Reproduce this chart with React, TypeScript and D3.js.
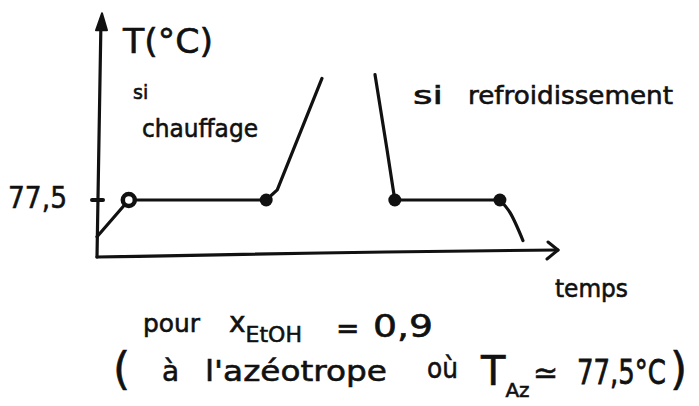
import React from "react";
import * as d3 from "d3";

// Time axis (arbitrary units) and temperature axis (°C)
const timeDomain: [number, number] = [0, 100];
const tempDomain: [number, number] = [73, 92];

// Azeotrope boiling temperature and its tick label
const azeotropeTemp = 77.5;
const tempTickLabels = ["77,5"];

// Heating curve: warm-up, boiling plateau, vapour heating
const heatingTime = [0, 6.9, 36.7, 39.1, 48.8];
const heatingTemp = [74.6, 77.5, 77.5, 78.3, 87.1];
// Plateau ends (start drawn open, end drawn filled)
const heatingPlateauTime = [6.9, 36.7];

// Cooling curve: vapour cooling, condensation plateau, liquid cooling
const coolingTime = [60.3, 62.9, 64.6, 87.4, 89.6, 92.4];
const coolingTemp = [87.4, 81.5, 77.5, 77.5, 76.5, 74.3];
const coolingPlateauTime = [64.6, 87.4];

const W = 699;
const H = 406;
const FONT = "'DejaVu Sans', sans-serif";
const INK = "#111";

export default function App() {
  const x = d3.scaleLinear().domain(timeDomain).range([97, 558]);
  const y = d3.scaleLinear().domain(tempDomain).range([257, 16.3]);

  const line = d3
    .line<[number, number]>()
    .x((d) => x(d[0]))
    .y((d) => y(d[1]))
    .curve(d3.curveLinear);

  const heatingPts = heatingTime.map((t, i) => [t, heatingTemp[i]] as [number, number]);
  const coolingDrop = coolingTime.slice(0, 3).map((t, i) => [t, coolingTemp[i]] as [number, number]);
  const coolingRest = coolingTime.slice(2).map((t, i) => [t, coolingTemp[i + 2]] as [number, number]);
  const tail = d3
    .line<[number, number]>()
    .x((d) => x(d[0]))
    .y((d) => y(d[1]))
    .curve(d3.curveMonotoneX);

  const x0 = x(timeDomain[0]);
  const yBase = y(tempDomain[0]);
  const yTop = y(tempDomain[1]);
  const xEnd = x(timeDomain[1]);
  const yTick = y(azeotropeTemp);

  return (
    <svg
      width={W}
      height={H}
      viewBox={`0 0 ${W} ${H}`}
      style={{ position: "absolute", left: 0, top: 0, background: "#fff" }}
    >
      <rect width={W} height={H} fill="#fff" />
      <g stroke={INK} strokeLinecap="round" strokeLinejoin="round" fill="none">
        {/* temperature axis with arrow */}
        <path d={`M${x0},${yBase} L${x0 + 4},${yTop + 3}`} strokeWidth={3.2} />
        <path
          d={`M${x0 + 5},${yTop - 3} L${x0 - 1},${yTop + 14} L${x0 + 10},${yTop + 14} Z`}
          fill={INK}
          strokeWidth={2}
        />
        {/* time axis with arrow */}
        <path d={`M${x0},${yBase} Q${x(55)},${yBase - 5} ${xEnd},${yBase - 7}`} strokeWidth={3.2} />
        <path d={`M${xEnd - 10},${yBase - 15} L${xEnd},${yBase - 7} L${xEnd - 11},${yBase + 2}`} strokeWidth={3} />
        {/* tick at the azeotrope temperature */}
        <path d={`M${x0 - 5},${yTick} L${x0 + 6},${yTick}`} strokeWidth={4} />

        {/* heating curve */}
        <path d={line(heatingPts) ?? ""} strokeWidth={3.2} />
        {/* cooling curve */}
        <path d={line(coolingDrop) ?? ""} strokeWidth={3.2} />
        <path d={line(coolingRest.slice(0, 2)) ?? ""} strokeWidth={3.2} />
        <path d={tail(coolingRest.slice(1)) ?? ""} strokeWidth={3.2} />
      </g>

      {/* plateau markers */}
      <circle cx={x(heatingPlateauTime[0])} cy={yTick} r={6} fill="#fff" stroke={INK} strokeWidth={4.5} />
      <circle cx={x(heatingPlateauTime[1])} cy={yTick} r={6.5} fill={INK} />
      {coolingPlateauTime.map((t) => (
        <circle key={t} cx={x(t)} cy={yTick} r={6.5} fill={INK} />
      ))}

      <g fill={INK} stroke={INK} strokeWidth={0.6} fontFamily={FONT}>
        {/* axis titles */}
        <text x={123} y={53} fontSize={34} textLength={90} lengthAdjust="spacingAndGlyphs">T(°C)</text>
        <text x={555} y={297} fontSize={24} textLength={73} lengthAdjust="spacingAndGlyphs">temps</text>
        {/* tick label */}
        <text x={8} y={208} fontSize={31} textLength={59} lengthAdjust="spacingAndGlyphs">{tempTickLabels[0]}</text>

        {/* curve annotations */}
        <text x={133} y={99} fontSize={19}>si</text>
        <text x={142} y={137} fontSize={25} textLength={116} lengthAdjust="spacingAndGlyphs">chauffage</text>
        <text x={413} y={104} fontSize={25} textLength={30} lengthAdjust="spacingAndGlyphs">si</text>
        <text x={468} y={104} fontSize={25} textLength={205} lengthAdjust="spacingAndGlyphs">refroidissement</text>

        {/* composition note */}
        <text x={143} y={332} fontSize={25} textLength={57} lengthAdjust="spacingAndGlyphs">pour</text>
        <text x={229} y={332} fontSize={28}>
          x<tspan dy={10} fontSize={22}>EtOH</tspan>
        </text>
        <text x={336} y={338} fontSize={28}>=</text>
        <text x={373} y={337} fontSize={32} textLength={60} lengthAdjust="spacingAndGlyphs">0,9</text>

        <text x={113} y={384} fontSize={44}>(</text>
        <text x={162} y={381} fontSize={28}>à</text>
        <text x={205} y={381} fontSize={29} textLength={182} lengthAdjust="spacingAndGlyphs">l'azéotrope</text>
        <text x={427} y={378} fontSize={28} textLength={31} lengthAdjust="spacingAndGlyphs">où</text>
        <text x={481} y={385} fontSize={40}>
          T<tspan dy={12} fontSize={20}>Az</tspan>
        </text>
        <text x={533} y={383} fontSize={30}>≃</text>
        <text transform="translate(577,384) scale(1,1.3)" fontSize={26}>77,5°C</text>
        <text x={670} y={384} fontSize={44}>)</text>
      </g>
    </svg>
  );
}
